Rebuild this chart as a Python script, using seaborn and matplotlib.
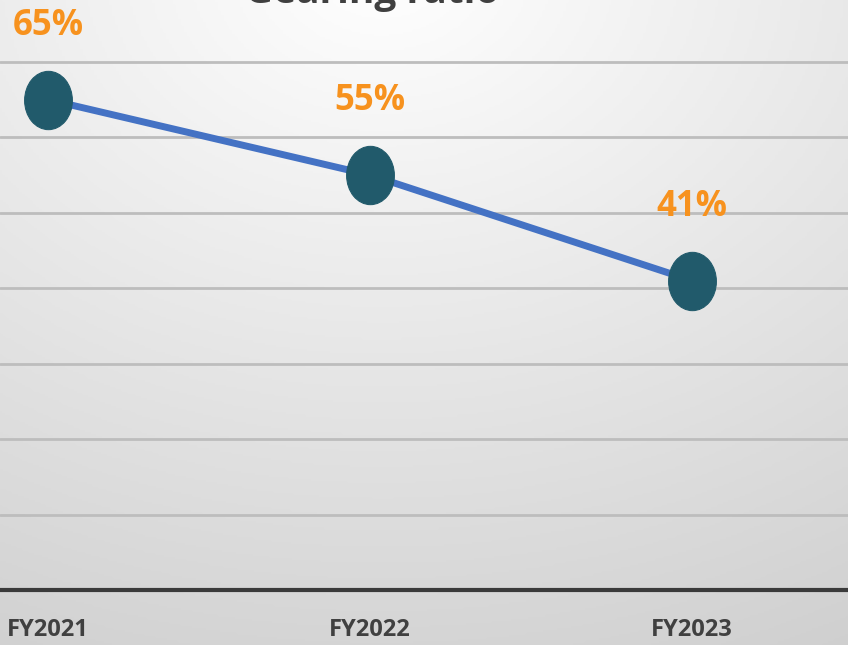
import numpy as np
import matplotlib
matplotlib.use('Agg')
import matplotlib.pyplot as plt
import seaborn as sns
from matplotlib.path import Path
from matplotlib.colors import LinearSegmentedColormap

# chart data
years = ['FY2021', 'FY2022', 'FY2023']
gearing = [65, 55, 41]
labels = ['65%', '55%', '41%']

sns.set_style('white')
plt.rcParams['font.family'] = ['Open Sans', 'DejaVu Sans']

fig = plt.figure(figsize=(8.48, 6.45), dpi=100)

# soft radial gradient behind everything
bg = fig.add_axes([0, 0, 1, 1], zorder=0)
gx, gy = np.meshgrid(np.linspace(0, 1, 300), np.linspace(0, 1, 300))
dist = np.sqrt((gx - 0.45) ** 2 + (gy - 1.05) ** 2)
cmap = LinearSegmentedColormap.from_list('bg', ['#fdfdfd', '#e6e6e6', '#cfcfcf'])
bg.imshow(dist, cmap=cmap, origin='lower', extent=[0, 1, 0, 1], aspect='auto',
          vmin=0.05, vmax=1.2)
bg.axis('off')

# plot area: bottom axis line sits at y=590 px from the top
ax = fig.add_axes([0, (645 - 590) / 645, 1, 590 / 645], zorder=1)
ax.patch.set_alpha(0)

# ellipse marker (chart was stretched vertically)
circ = Path.unit_circle()
ellipse = Path(circ.vertices * np.array([1.0, 1.22]), circ.codes)

xpos = list(range(len(years)))
sns.lineplot(x=xpos, y=gearing, ax=ax, color='#4472c4', linewidth=5,
             marker=ellipse, markersize=42, markerfacecolor='#215a6b',
             markeredgecolor='#215a6b', zorder=3)

for x, y, lab in zip(xpos, gearing, labels):
    ax.annotate(lab, (x, y), xytext=(0, 53), textcoords='offset points',
                ha='center', va='center', fontsize=25, fontweight='bold',
                color='#f7921e')

ax.set_xlim(-0.149, 2.484)
ax.set_ylim(0, 78.2)
ax.set_yticks(range(10, 80, 10))
ax.yaxis.grid(True, color='#bdbdbd', linewidth=2)
ax.xaxis.grid(False)
ax.tick_params(axis='y', left=False, labelleft=False)
ax.set_xticks(xpos)
ax.set_xticklabels(years, fontsize=17, fontweight='bold', color='#404040')
ax.tick_params(axis='x', length=0, pad=20)
for side in ['top', 'left', 'right']:
    ax.spines[side].set_visible(False)
ax.spines['bottom'].set_color('#3a3a3a')
ax.spines['bottom'].set_linewidth(3)
ax.set_xlabel('')
ax.set_ylabel('')

fig.text(372 / 848, 1 - 3 / 645, 'Gearing ratio', ha='center', va='baseline',
         fontsize=28, fontweight='bold', color='#404040')

fig.savefig('out.png', dpi=100)
